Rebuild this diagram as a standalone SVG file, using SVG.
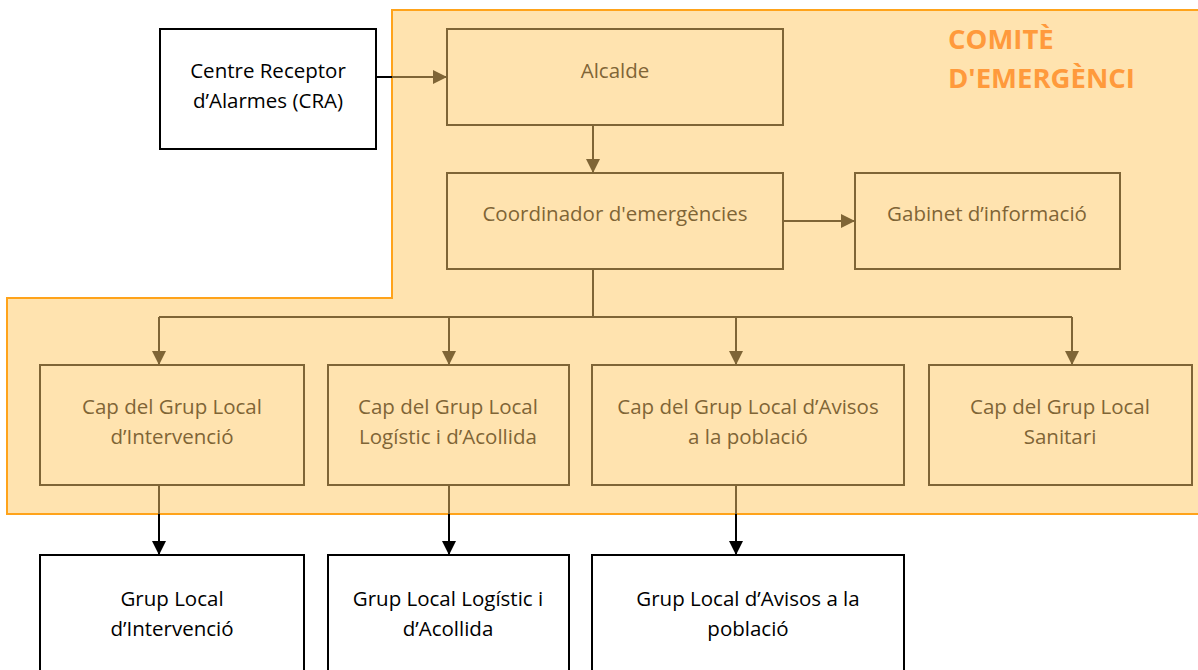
<svg xmlns="http://www.w3.org/2000/svg" width="1198" height="670" viewBox="0 0 1198 670">
<defs>
<marker id="ab" viewBox="0 0 10 10" refX="10" refY="5" markerWidth="14" markerHeight="14" markerUnits="userSpaceOnUse" orient="auto"><path d="M0,0 L10,5 L0,10 z" fill="#7F6536"/></marker>
<marker id="ak" viewBox="0 0 10 10" refX="10" refY="5" markerWidth="14" markerHeight="14" markerUnits="userSpaceOnUse" orient="auto"><path d="M0,0 L10,5 L0,10 z" fill="#000"/></marker>
<style>
.in{fill:#FFE3AF;stroke:#7F6536;stroke-width:2}
.out{fill:#fff;stroke:#000;stroke-width:2}
.t{font-family:"Open Sans","Liberation Sans",sans-serif;font-size:20.5px;text-anchor:middle}
.tb{fill:#7F6536}
.tk{fill:#000}
.cb{fill:none;stroke:#7F6536;stroke-width:2}
.ck{fill:none;stroke:#000;stroke-width:2}
</style>
</defs>
<rect width="1198" height="670" fill="#fff"/>
<g id="comite">
<path d="M1199,10 H392 V298 H7 V514 H1199" fill="#FFE3AF" stroke="#FFA31A" stroke-width="2"/>
<text font-family="'Open Sans','Liberation Sans',sans-serif" font-size="27.5" font-weight="bold" fill="#FF9A3C"><tspan x="948" y="49">COMITÈ</tspan><tspan x="948" y="88">D'EMERGÈNCI</tspan></text>
</g>
<g id="connectors">
<path class="ck" d="M376,77 H392"/>
<path class="cb" d="M392,77 H447" marker-end="url(#ab)"/>
<path class="cb" d="M593,125 V173" marker-end="url(#ab)"/>
<path class="cb" d="M783,221 H855" marker-end="url(#ab)"/>
<path class="cb" d="M593,269 V317 M159,317 H1072"/>
<path class="cb" d="M159,317 V365" marker-end="url(#ab)"/>
<path class="cb" d="M449,317 V365" marker-end="url(#ab)"/>
<path class="cb" d="M736,317 V365" marker-end="url(#ab)"/>
<path class="cb" d="M1072,317 V365" marker-end="url(#ab)"/>
<path class="cb" d="M159,485 V514 M449,485 V514 M736,485 V514"/>
<path class="ck" d="M159,514 V555" marker-end="url(#ak)"/>
<path class="ck" d="M449,514 V555" marker-end="url(#ak)"/>
<path class="ck" d="M736,514 V555" marker-end="url(#ak)"/>
</g>
<g id="cra"><rect class="out" x="160" y="29" width="216" height="120"/><text class="t tk"><tspan x="268" y="78">Centre Receptor</tspan><tspan x="268" y="108">d’Alarmes (CRA)</tspan></text></g>
<g id="alcalde"><rect class="in" x="447" y="29" width="336" height="96"/><text class="t tb" x="615" y="78">Alcalde</text></g>
<g id="coordinador"><rect class="in" x="447" y="173" width="336" height="96"/><text class="t tb" x="615" y="221">Coordinador d'emergències</text></g>
<g id="gabinet"><rect class="in" x="855" y="173" width="265" height="96"/><text class="t tb" x="987" y="221">Gabinet d’informació</text></g>
<g id="cap-intervencio"><rect class="in" x="40" y="365" width="264" height="120"/><text class="t tb"><tspan x="172" y="414">Cap del Grup Local</tspan><tspan x="172" y="444">d’Intervenció</tspan></text></g>
<g id="cap-logistic"><rect class="in" x="328" y="365" width="241" height="120"/><text class="t tb"><tspan x="448" y="414">Cap del Grup Local</tspan><tspan x="448" y="444">Logístic i d’Acollida</tspan></text></g>
<g id="cap-avisos"><rect class="in" x="592" y="365" width="312" height="120"/><text class="t tb"><tspan x="748" y="414">Cap del Grup Local d’Avisos</tspan><tspan x="748" y="444">a la població</tspan></text></g>
<g id="cap-sanitari"><rect class="in" x="929" y="365" width="263" height="120"/><text class="t tb"><tspan x="1060" y="414">Cap del Grup Local</tspan><tspan x="1060" y="444">Sanitari</tspan></text></g>
<g id="grup-intervencio"><rect class="out" x="40" y="555" width="264" height="130"/><text class="t tk"><tspan x="172" y="606">Grup Local</tspan><tspan x="172" y="636">d’Intervenció</tspan></text></g>
<g id="grup-logistic"><rect class="out" x="328" y="555" width="241" height="130"/><text class="t tk"><tspan x="448" y="606">Grup Local Logístic i</tspan><tspan x="448" y="636">d’Acollida</tspan></text></g>
<g id="grup-avisos"><rect class="out" x="592" y="555" width="312" height="130"/><text class="t tk"><tspan x="748" y="606">Grup Local d’Avisos a la</tspan><tspan x="748" y="636">població</tspan></text></g>
</svg>
